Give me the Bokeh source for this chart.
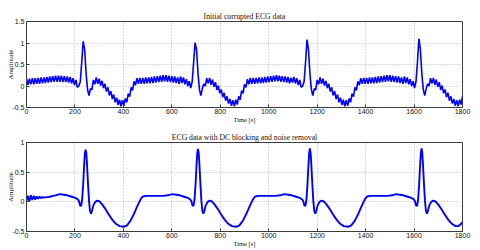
from bokeh.plotting import figure
from bokeh.layouts import column
from bokeh.models import Range1d, FixedTicker
from bokeh.embed import file_html
from bokeh.resources import INLINE

# ---------------- data ----------------
x_ticks = [0, 200, 400, 600, 800, 1000, 1200, 1400, 1600, 1800]
top_y_ticks = [-0.5, 0, 0.5, 1, 1.5]
top_y_labels = ["-0.5", "0", "0.5", "1", "1.5"]
bot_y_ticks = [-0.5, 0, 0.5, 1]
bot_y_labels = ["-0.5", "0", "0.5", "1"]

# raw (noisy) ECG, one value every 6 s
raw_t = list(range(0, 1801, 6))
raw_start = [0.17, 0.03, 0.17, 0.04, 0.18, 0.04, 0.18, 0.05, 0.19, 0.05,
             0.20, 0.06, 0.20, 0.07, 0.21, 0.08, 0.22, 0.09, 0.23, 0.10,
             0.24, 0.10, 0.24, 0.10, 0.24, 0.09, 0.23, 0.09, 0.22]
raw_beat1 = [0.08, 0.21, 0.06, 0.18, 0.02, 0.14, -0.03, 0.00, 0.10, 0.55,
             1.04, 0.85, 0.30, -0.08, -0.22, -0.06, -0.09, 0.14, 0.04, 0.20,
             0.05, 0.17, 0.01, 0.12, -0.05, 0.05, -0.13, -0.03, -0.22, -0.12,
             -0.30, -0.20, -0.38, -0.27, -0.44, -0.32, -0.47, -0.33, -0.46, -0.29,
             -0.38, -0.18, -0.25, -0.03, -0.10, 0.11, 0.02, 0.18, 0.05, 0.19,
             0.05, 0.19, 0.05, 0.20, 0.06, 0.20, 0.06, 0.21, 0.07, 0.22,
             0.08, 0.23, 0.09, 0.24, 0.10, 0.25, 0.11, 0.25, 0.10, 0.24,
             0.09, 0.23, 0.08, 0.22, 0.07, 0.20, 0.05]
raw_beat2 = [0.22, 0.07, 0.20, 0.04, 0.16, 0.00, 0.11, -0.05, 0.10, 0.55,
             1.01, 0.85, 0.30, -0.08, -0.22, -0.06, 0.05, 0.00, 0.18, 0.06,
             0.19, 0.03, 0.15, -0.02, 0.09, -0.09, 0.01, -0.17, -0.08, -0.26,
             -0.16, -0.34, -0.24, -0.41, -0.30, -0.46, -0.33, -0.47, -0.32, -0.43,
             -0.24, -0.32, -0.11, -0.17, 0.04, -0.03, 0.16, 0.04, 0.19, 0.05,
             0.19, 0.05, 0.19, 0.06, 0.20, 0.06, 0.20, 0.07, 0.21, 0.08,
             0.22, 0.09, 0.23, 0.10, 0.24, 0.11, 0.25, 0.11, 0.24, 0.10,
             0.23, 0.09, 0.22, 0.08, 0.21, 0.06, 0.19]
raw_beat3 = [0.08, 0.21, 0.06, 0.18, 0.02, 0.14, -0.03, 0.00, 0.10, 0.55,
             1.08, 0.85, 0.30, -0.08, -0.22, -0.06, -0.09, 0.14, 0.04, 0.20,
             0.05, 0.17, 0.01, 0.12, -0.05, 0.05, -0.13, -0.03, -0.22, -0.12,
             -0.30, -0.20, -0.38, -0.27, -0.44, -0.32, -0.47, -0.33, -0.46, -0.29,
             -0.38, -0.18, -0.25, -0.03, -0.10, 0.11, 0.02, 0.18, 0.05, 0.19,
             0.05, 0.19, 0.05, 0.20, 0.06, 0.20, 0.06, 0.21, 0.07, 0.22,
             0.08, 0.23, 0.09, 0.24, 0.10, 0.25, 0.11, 0.25, 0.10, 0.24,
             0.09, 0.23, 0.08, 0.22, 0.07, 0.20, 0.05]
raw_beat4 = [0.22, 0.07, 0.20, 0.04, 0.16, 0.00, 0.11, -0.05, 0.10, 0.55,
             1.10, 0.85, 0.30, -0.08, -0.22, -0.06, 0.05, 0.00, 0.18, 0.06,
             0.19, 0.03, 0.15, -0.02, 0.09, -0.09, 0.01, -0.17, -0.08, -0.26,
             -0.16, -0.34, -0.24, -0.41, -0.30, -0.46, -0.33, -0.47, -0.32, -0.43,
             -0.24]
raw_v = raw_start + raw_beat1 + raw_beat2 + raw_beat3 + raw_beat4

# filtered ECG (DC blocked, noise removed)
clean_t0 = [0, 6, 12, 18, 24, 30, 36, 42, 48, 54, 60, 66, 72, 80, 90, 100, 110, 120, 130, 138]
clean_v0 = [0.02, 0.10, 0.01, 0.11, 0.03, 0.10, 0.04, 0.09, 0.05, 0.09, 0.06, 0.08, 0.07, 0.08,
            0.08, 0.09, 0.10, 0.11, 0.12, 0.13]
clean_t1 = [154, 169, 184, 199, 209, 216, 222, 226, 230, 234, 238, 241, 244, 247, 250, 254, 258,
            262, 266, 270, 276, 284, 292, 300, 310, 324, 339, 354, 369, 384, 401, 414, 429, 444,
            459, 472, 480, 494, 524, 564, 584]
clean_v1 = [0.12, 0.11, 0.09, 0.07, 0.05, 0.02, -0.07, -0.06, 0.05, 0.30, 0.62, 0.82, 0.88, 0.82,
            0.62, 0.30, 0.02, -0.15, -0.20, -0.16, -0.06, 0.00, 0.02, 0.01, -0.03, -0.11, -0.21,
            -0.30, -0.37, -0.41, -0.42, -0.40, -0.32, -0.20, -0.06, 0.05, 0.09, 0.10, 0.10, 0.10, 0.11]
clean_t2 = [602, 618, 633, 648, 663, 673, 680, 686, 690, 694, 698, 702, 705, 708, 711, 714, 718,
            722, 726, 730, 734, 740, 748, 756, 764, 774, 788, 803, 818, 833, 848, 865, 878, 893,
            908, 923, 936, 944, 958, 988, 1028, 1048]
clean_v2 = [0.13, 0.12, 0.11, 0.09, 0.07, 0.05, 0.02, -0.07, -0.06, 0.05, 0.30, 0.62, 0.82, 0.89,
            0.82, 0.62, 0.30, 0.02, -0.15, -0.20, -0.16, -0.06, 0.00, 0.02, 0.01, -0.03, -0.11,
            -0.21, -0.30, -0.37, -0.41, -0.42, -0.40, -0.32, -0.20, -0.06, 0.05, 0.09, 0.10, 0.10,
            0.10, 0.11]
clean_t3 = [1064, 1080, 1095, 1110, 1125, 1135, 1142, 1148, 1152, 1156, 1160, 1164, 1167, 1170,
            1173, 1176, 1180, 1184, 1188, 1192, 1196, 1202, 1210, 1218, 1226, 1236, 1250, 1265,
            1280, 1295, 1310, 1327, 1340, 1355, 1370, 1385, 1398, 1406, 1420, 1450, 1490, 1510]
clean_v3 = [0.13, 0.12, 0.11, 0.09, 0.07, 0.05, 0.02, -0.07, -0.06, 0.05, 0.30, 0.62, 0.82, 0.90,
            0.82, 0.62, 0.30, 0.02, -0.15, -0.20, -0.16, -0.06, 0.00, 0.02, 0.01, -0.03, -0.11,
            -0.21, -0.30, -0.37, -0.41, -0.42, -0.40, -0.32, -0.20, -0.06, 0.05, 0.09, 0.10, 0.10,
            0.10, 0.11]
clean_t4 = [1525, 1541, 1556, 1571, 1586, 1596, 1603, 1609, 1613, 1617, 1621, 1625, 1628, 1631,
            1634, 1637, 1641, 1645, 1649, 1653, 1657, 1663, 1671, 1679, 1687, 1697, 1711, 1726,
            1741, 1756, 1771, 1782, 1792, 1800]
clean_v4 = [0.13, 0.12, 0.11, 0.09, 0.07, 0.05, 0.02, -0.07, -0.06, 0.05, 0.30, 0.62, 0.82, 0.90,
            0.82, 0.62, 0.30, 0.02, -0.15, -0.20, -0.16, -0.06, 0.00, 0.02, 0.01, -0.03, -0.11,
            -0.21, -0.30, -0.37, -0.41, -0.41, -0.38, -0.34]
clean_t = clean_t0 + clean_t1 + clean_t2 + clean_t3 + clean_t4
clean_v = clean_v0 + clean_v1 + clean_v2 + clean_v3 + clean_v4

SERIF = "Liberation Serif"
SANS = "Liberation Sans"
AXIS_COLOR = "#3c3c3c"
TEXT_COLOR = "#111111"
BLUE = "#0000ff"


def make_fig(title, height, ymin, ymax, yticks, ylabels, border_top, title_standoff):
    p = figure(width=474, height=height, output_backend="svg", toolbar_location=None,
               x_range=Range1d(0, 1800), y_range=Range1d(ymin, ymax),
               min_border_left=26, min_border_right=12,
               min_border_top=border_top, min_border_bottom=18,
               background_fill_color="white", border_fill_color="white")
    p.title.text = title
    p.title.text_font = SERIF
    p.title.text_font_size = "7.7px"
    p.title.text_font_style = "normal"
    p.title.text_color = TEXT_COLOR
    p.title.align = "center"
    p.title.standoff = title_standoff
    p.title.offset = 0

    p.outline_line_color = AXIS_COLOR
    p.outline_line_width = 1

    p.xaxis.ticker = FixedTicker(ticks=x_ticks)
    p.yaxis.ticker = FixedTicker(ticks=yticks)
    p.yaxis.major_label_overrides = dict(zip(yticks, ylabels))
    for ax in (p.xaxis, p.yaxis):
        ax.axis_line_color = AXIS_COLOR
        ax.major_tick_line_color = AXIS_COLOR
        ax.major_tick_in = 3
        ax.major_tick_out = 0
        ax.minor_tick_line_color = None
        ax.major_label_text_font = SANS
        ax.major_label_text_font_size = "7px"
        ax.major_label_text_color = TEXT_COLOR
        ax.axis_label_text_font = SERIF
        ax.axis_label_text_font_style = "normal"
        ax.axis_label_text_color = TEXT_COLOR
    p.xaxis.axis_label = "Time [s]"
    p.xaxis.axis_label_text_font_size = "6.5px"
    p.xaxis.major_label_standoff = 1
    p.xaxis.axis_label_standoff = -1
    p.yaxis.axis_label = "Amplitude"
    p.yaxis.axis_label_text_font_size = "7px"
    p.yaxis.major_label_standoff = 2
    p.yaxis.axis_label_standoff = -6

    for g in (p.xgrid, p.ygrid):
        g.grid_line_color = "#b4b4b4"
        g.grid_line_dash = "1 2"
        g.grid_line_width = 1
    return p


p1 = make_fig("Initial corrupted ECG data", 125, -0.5, 1.5, top_y_ticks, top_y_labels, 21, 2)
p1.line(raw_t, raw_v, line_color=BLUE, line_width=1.6)

p2 = make_fig("ECG data with DC blocking and noise removal", 124, -0.5, 1.0,
              bot_y_ticks, bot_y_labels, 17, 2)
p2.line(clean_t, clean_v, line_color=BLUE, line_width=1.9)

layout = column(p1, p2)
open("out.html", "w").write(file_html(layout, INLINE))
